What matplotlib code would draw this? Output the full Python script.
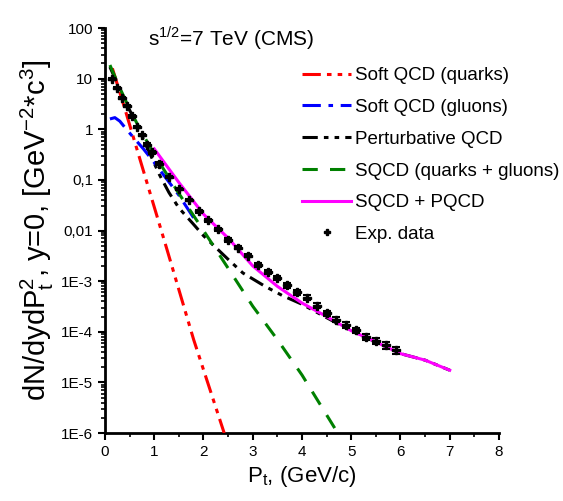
import matplotlib
matplotlib.use("Agg")
import matplotlib.pyplot as plt
from matplotlib.lines import Line2D
import numpy as np

plt.rcParams["font.family"] = ["Liberation Sans", "DejaVu Sans"]

# Soft QCD (quarks)
pt_quarks = [0.15, 0.4, 0.8, 1.25, 1.8, 2.42]
y_quarks = [16, 2.6, 0.13, 0.0045, 7.0e-5, 1.0e-6]

# Soft QCD (gluons)
pt_gluons = [0.1, 0.2, 0.3, 0.4, 0.55, 0.78, 1.0, 1.25, 1.5, 1.85]
y_gluons = [1.6, 1.7, 1.45, 1.1, 0.74, 0.41, 0.22, 0.105, 0.05, 0.015]

# Perturbative QCD
pt_pqcd = [0.1, 0.3, 0.5, 0.7, 0.9, 1.1, 1.3, 1.5, 1.8, 2.0, 2.5, 2.8, 3.25, 3.6,
           4.0, 4.5, 5.0, 5.5, 6.0, 6.5, 7.0]
y_pqcd = [17, 6.3, 2.4, 0.95, 0.35, 0.13, 0.056, 0.028, 0.0132, 0.0079, 0.0027,
          0.00145, 0.00079, 0.00052, 0.00035, 0.00019, 0.000104, 6.3e-5, 3.7e-5,
          2.75e-5, 1.74e-5]

# SQCD (quarks + gluons)
pt_sqcd = [0.1, 0.3, 0.5, 0.7, 1.0, 1.5, 2.0, 2.5, 3.0, 3.5, 4.0, 4.7]
y_sqcd = [18.6, 6.6, 2.5, 1.05, 0.32, 0.054, 0.01, 0.0018, 0.00032, 7.0e-5,
          1.4e-5, 1.1e-6]

# SQCD + PQCD
pt_sum = [1.0, 1.5, 2.0, 2.5, 3.0, 3.5, 4.0, 4.5, 5.0, 5.5, 6.0, 6.5, 7.0]
y_sum = [0.41, 0.089, 0.021, 0.0071, 0.002, 0.00079, 0.00037, 0.0002, 0.000105,
         6.3e-5, 3.7e-5, 2.75e-5, 1.74e-5]

# Exp. data
pt_data = [0.15, 0.25, 0.35, 0.45, 0.55, 0.65, 0.75, 0.85, 0.95, 1.1, 1.3, 1.5,
           1.7, 1.9, 2.1, 2.3, 2.5, 2.7, 2.9, 3.1, 3.3, 3.5, 3.7, 3.9, 4.1, 4.3,
           4.5, 4.7, 4.9, 5.1, 5.3, 5.5, 5.7, 5.9]
y_data = [10, 6.6, 4.2, 2.9, 1.8, 1.1, 0.76, 0.5, 0.35, 0.21, 0.115, 0.066,
          0.04, 0.024, 0.016, 0.0105, 0.0066, 0.0046, 0.0032, 0.0021, 0.0015,
          0.00117, 0.00083, 0.0006, 0.00047, 0.00033, 0.00023, 0.000174,
          0.000138, 0.000107, 7.9e-5, 6.6e-5, 5.4e-5, 4.3e-5]
err_frac = [0.05, 0.05, 0.05, 0.05, 0.05, 0.05, 0.05, 0.05, 0.05, 0.06, 0.06,
            0.06, 0.06, 0.07, 0.07, 0.07, 0.08, 0.08, 0.08, 0.09, 0.09, 0.1,
            0.1, 0.1, 0.11, 0.11, 0.12, 0.12, 0.13, 0.13, 0.14, 0.15, 0.16, 0.17]

fig = plt.figure(figsize=(5.63, 5.01), dpi=100)
ax = fig.add_axes([0.1865, 0.1357, 0.6998, 0.8083])

l_pqcd, = ax.plot(pt_pqcd, y_pqcd, color="black", lw=2.2,
                  dashes=(5, 2, 1.5, 2, 1.5, 2), zorder=2)
l_q, = ax.plot(pt_quarks, y_quarks, color="red", lw=2.2,
               dashes=(6, 2, 1.5, 2, 1.5, 2), zorder=3)
l_g, = ax.plot(pt_gluons, y_gluons, color="blue", lw=2.2,
               dashes=(6, 2.5, 1.5, 2.5), zorder=3)
l_s, = ax.plot(pt_sqcd, y_sqcd, color="green", lw=2.2, dashes=(5, 4), zorder=3)
l_sum, = ax.plot(pt_sum, y_sum, color="magenta", lw=2.2, zorder=4)

y_arr = np.array(y_data)
ax.errorbar(pt_data, y_data, yerr=y_arr * np.array(err_frac), fmt="P",
            color="black", ms=6, elinewidth=1.5, capsize=3, capthick=1.5,
            zorder=5)
l_data = Line2D([], [], ls="none", marker="P", color="black", ms=4)

ax.set_yscale("log")
ax.set_xlim(0, 8)
ax.set_ylim(1e-6, 100)
ax.set_xticks(range(0, 9))
ax.set_xticks(np.arange(0.5, 8, 1), minor=True)
ax.set_yticks([100, 10, 1, 0.1, 0.01, 1e-3, 1e-4, 1e-5, 1e-6])
ax.set_yticklabels(["100", "10", "1", "0,1", "0,01", "1E-3", "1E-4", "1E-5", "1E-6"])

ax.spines["top"].set_visible(False)
ax.spines["right"].set_visible(False)
ax.spines["left"].set_linewidth(2)
ax.spines["bottom"].set_linewidth(2)
ax.tick_params(which="major", direction="out", length=5, width=1.5, labelsize=11)
ax.tick_params(which="minor", direction="out", length=3, width=1.2)

ax.set_xlabel(r"P$_\mathregular{t}$, (GeV/c)", fontsize=16, labelpad=4)
ax.set_ylabel(r"dN/dydP$_\mathregular{t}^\mathregular{2}$, y=0, [GeV$^\mathregular{-2}$*c$^\mathregular{3}$]",
              fontsize=21, labelpad=4)

ax.text(0.11, 1.01, r"s$^\mathregular{1/2}$=7 TeV (CMS)", transform=ax.transAxes,
        fontsize=15, va="top", ha="left")

ax.legend([l_q, l_g, l_pqcd, l_s, l_sum, l_data],
          ["Soft QCD (quarks)", "Soft QCD (gluons)", "Perturbative QCD",
           "SQCD (quarks + gluons)", "SQCD + PQCD", "Exp. data"],
          loc="upper left", bbox_to_anchor=(0.482, 0.922), frameon=False,
          fontsize=13.5, handlelength=2.6, handletextpad=0.2, labelspacing=0.78,
          borderaxespad=0)

fig.savefig("out.png", dpi=100)
